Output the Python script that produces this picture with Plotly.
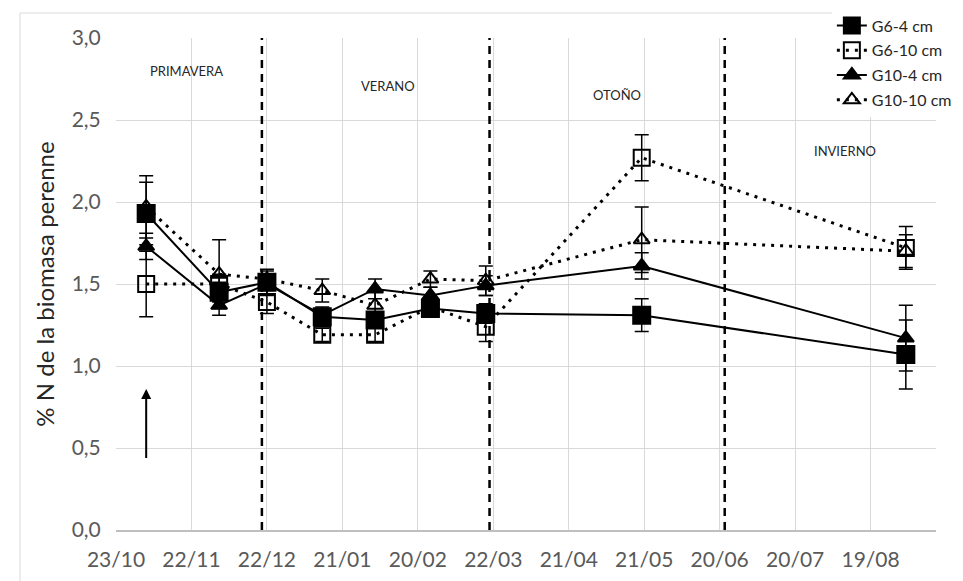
import plotly.graph_objects as go

# ---- data ----
dates = ["2014-11-04", "2014-12-03", "2014-12-22", "2015-01-13", "2015-02-03",
         "2015-02-25", "2015-03-19", "2015-05-20", "2015-09-02"]

g6_4 = [1.93, 1.45, 1.51, 1.30, 1.28, 1.35, 1.32, 1.31, 1.07]
g6_4_err = [0.19, 0.06, 0.08, 0.05, 0.05, 0.05, 0.06, 0.10, 0.21]

g6_10 = [1.50, 1.50, 1.39, 1.19, 1.19, 1.36, 1.24, 2.27, 1.72]
g6_10_err = [0.20, 0.06, 0.07, 0.04, 0.04, 0.05, 0.09, 0.14, 0.13]

g10_4 = [1.73, 1.37, 1.50, 1.31, 1.47, 1.43, 1.49, 1.61, 1.17]
g10_4_err = [0.08, 0.06, 0.06, 0.05, 0.06, 0.05, 0.06, 0.08, 0.20]

g10_10 = [1.97, 1.56, 1.53, 1.46, 1.37, 1.53, 1.52, 1.77, 1.70]
g10_10_err = [0.19, 0.21, 0.05, 0.07, 0.08, 0.05, 0.09, 0.20, 0.10]

season_names = ["PRIMAVERA", "VERANO", "OTOÑO", "INVIERNO"]
season_label_x = ["2014-11-20", "2015-02-08", "2015-05-10", "2015-08-09"]
season_label_y = [2.80, 2.71, 2.65, 2.31]
season_bounds = ["2014-12-20", "2015-03-20 12:00", "2015-06-22"]

y_ticks = [0, 0.5, 1.0, 1.5, 2.0, 2.5, 3.0]

FONT = "Lato, Roboto, sans-serif"
DOT = "3px,6px"

def err(vals):
    return dict(type="data", array=vals, visible=True, color="black",
                thickness=1.5, width=7)

series = [
    # name, y, err, symbol, dash, size, rank
    ("G6-10 cm", g6_10, g6_10_err, "square-open", DOT, 16, 2),
    ("G10-10 cm", g10_10, g10_10_err, "triangle-up-open", DOT, 14, 4),
    ("G10-4 cm", g10_4, g10_4_err, "triangle-up", "solid", 14, 3),
    ("G6-4 cm", g6_4, g6_4_err, "square", "solid", 17, 1),
]

fig = go.Figure()
for name, y, e, sym, dash, size, rank in series:
    fig.add_trace(go.Scatter(
        x=dates, y=y, name=name, mode="lines+markers",
        line=dict(color="black", width=3 if dash != "solid" else 2, dash=dash),
        marker=dict(symbol=sym, size=size, color="black",
                    line=dict(color="black", width=2)),
        error_y=err(e), legendrank=rank, legendgroup=name,
    ))

shapes = []
for d in season_bounds:
    shapes.append(dict(type="line", xref="x", yref="y", x0=d, x1=d, y0=0, y1=3.0,
                       line=dict(color="black", width=2.5, dash="8px,6px")))
# outer chart border
shapes.append(dict(type="rect", xref="paper", yref="paper",
                   x0=(12 - 108) / 820, x1=(962 - 108) / 820,
                   y0=(522 - 580) / 492, y1=(522 - 5) / 492,
                   line=dict(color="#d9d9d9", width=1), layer="below"))

annotations = []
for n, xx, yy in zip(season_names, season_label_x, season_label_y):
    annotations.append(dict(x=xx, y=yy, xref="x", yref="y", text=n, showarrow=False,
                            font=dict(family=FONT, size=13, color="#262626")))
annotations.append(dict(x=dates[0], y=0.86, xref="x", yref="y",
                        ax=dates[0], ay=0.43, axref="x", ayref="y",
                        showarrow=True, arrowhead=2, arrowsize=1, arrowwidth=2,
                        arrowcolor="black", text=""))

fig.update_layout(
    width=963, height=581,
    margin=dict(l=108, r=35, t=30, b=59, autoexpand=False),
    paper_bgcolor="white", plot_bgcolor="white",
    separators=",.",
    font=dict(family=FONT, color="#595959"),
    showlegend=True,
    legend=dict(x=0.873, y=1.06, xanchor="left", yanchor="top",
                bgcolor="white", font=dict(family=FONT, size=16, color="#262626"),
                tracegroupgap=1, traceorder="grouped"),
    shapes=shapes, annotations=annotations,
)
fig.update_xaxes(
    type="date", range=["2014-10-23", "2015-09-14"],
    tick0="2014-10-23", dtick=30 * 86400000, tickformat="%d/%m",
    showgrid=True, gridcolor="#d9d9d9", gridwidth=1,
    showline=True, linecolor="#bfbfbf", linewidth=1.5,
    ticks="outside", ticklen=10, tickcolor="rgba(0,0,0,0)",
    tickfont=dict(family=FONT, size=21, color="#595959"),
    zeroline=False, automargin=False,
)
fig.update_yaxes(
    range=[0, 3.0], tickvals=y_ticks, tickformat=".1f",
    showgrid=True, gridcolor="#d9d9d9", gridwidth=1,
    showline=False, zeroline=False, automargin=False,
    ticks="outside", ticklen=10, tickcolor="rgba(0,0,0,0)",
    tickfont=dict(family=FONT, size=21, color="#595959"),
    title=dict(text="% N de la biomasa perenne", standoff=10,
               font=dict(family=FONT, size=24, color="#262626")),
)

fig.write_html("out.html")
